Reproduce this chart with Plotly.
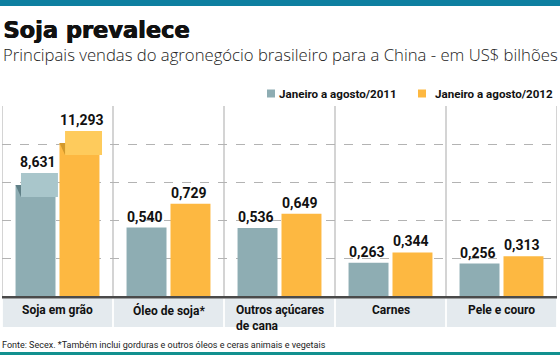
import plotly.graph_objects as go

# ---------------- data ----------------
categories = ["Soja em grão", "Óleo de soja*", "Outros açúcares<br>de cana", "Carnes", "Pele e couro"]
series_names = ["Janeiro a agosto/2011", "Janeiro a agosto/2012"]
values_2011 = [8.631, 0.540, 0.536, 0.263, 0.256]
values_2012 = [11.293, 0.729, 0.649, 0.344, 0.313]

title_text = "Soja prevalece"
subtitle_text = "Principais vendas do agronegócio brasileiro para a China - em US$ bilhões"
footer_text = "Fonte: Secex. *Também inclui gorduras e outros óleos e ceras animais e vegetais"

# ---------------- style ----------------
W, H = 560, 355
C11, C11_CAP, C11_FOLD = "#8eadb3", "#a9c6cb", "#5f7f86"
C12, C12_CAP, C12_FOLD = "#fdb841", "#fecb5c", "#d2992c"
TEAL = "#0e7fa0"
BAND = "#e4eaee"
FONT_B = "Roboto"


def px_x(p):
    return p / W


def px_y(p):
    return 1 - p / H


PLOT_L, PLOT_R, PLOT_T, PLOT_B = 2, 557, 106, 296
BAR_W = 0.36
OFF11, OFF12 = -0.378, 0.018
CAP_W = 0.333
CAP_OFF11, CAP_OFF12 = -0.329, 0.068
CAP_H = 0.76  # half height of the soja "break" caps, in soja-axis units

idx = list(range(len(categories)))
main_idx = idx[1:]

fig = go.Figure()

# main panel bars (categories 2..5)
fig.add_trace(go.Bar(x=main_idx, y=values_2011[1:], offset=OFF11, width=BAR_W,
                     marker=dict(color=C11, line=dict(width=0)), yaxis="y", hoverinfo="skip"))
fig.add_trace(go.Bar(x=main_idx, y=values_2012[1:], offset=OFF12, width=BAR_W,
                     marker=dict(color=C12, line=dict(width=0)), yaxis="y", hoverinfo="skip"))

# soja bars on a broken axis
fig.add_trace(go.Bar(x=[0], y=[values_2011[0]], offset=OFF11, width=BAR_W,
                     marker=dict(color=C11, line=dict(width=0)), yaxis="y2", hoverinfo="skip"))
fig.add_trace(go.Bar(x=[0], y=[values_2012[0]], offset=OFF12, width=BAR_W,
                     marker=dict(color=C12, line=dict(width=0)), yaxis="y2", hoverinfo="skip"))
fig.add_trace(go.Bar(x=[0], y=[2 * CAP_H], base=[values_2011[0] - CAP_H], offset=CAP_OFF11, width=CAP_W,
                     marker=dict(color=C11_CAP, line=dict(width=0)), yaxis="y2", hoverinfo="skip"))
fig.add_trace(go.Bar(x=[0], y=[2 * CAP_H], base=[values_2012[0] - CAP_H], offset=CAP_OFF12, width=CAP_W,
                     marker=dict(color=C12_CAP, line=dict(width=0)), yaxis="y2", hoverinfo="skip"))

shapes = []
# fold triangles
for v, off, coff, col in [(values_2011[0], OFF11, CAP_OFF11, C11_FOLD),
                          (values_2012[0], OFF12, CAP_OFF12, C12_FOLD)]:
    shapes.append(dict(type="path", xref="x", yref="y2",
                       path=f"M {off},{v} L {coff},{v} L {coff},{v - CAP_H} Z",
                       fillcolor=col, line=dict(width=0), layer="above"))

# top band, bottom band
shapes.append(dict(type="rect", xref="paper", yref="paper", x0=0, x1=1, y0=px_y(6), y1=1,
                   fillcolor=TEAL, line=dict(width=0)))
shapes.append(dict(type="rect", xref="paper", yref="paper", x0=0, x1=1, y0=0, y1=px_y(352),
                   fillcolor="#12908f", line=dict(width=0)))
# baseline
shapes.append(dict(type="rect", xref="paper", yref="paper", x0=px_x(PLOT_L), x1=px_x(PLOT_R),
                   y0=px_y(298.5), y1=px_y(296), fillcolor="#4a4a4a", line=dict(width=0)))
# label band per column
for i in idx:
    shapes.append(dict(type="rect", xref="x", yref="paper", x0=i - 0.5 + 0.008, x1=i + 0.5 - 0.008,
                       y0=px_y(327), y1=px_y(298.5), fillcolor=BAND, line=dict(width=0), layer="below"))
# vertical separators
for i in range(len(categories) + 1):
    shapes.append(dict(type="line", xref="x", yref="paper", x0=i - 0.5, x1=i - 0.5,
                       y0=px_y(PLOT_B), y1=px_y(PLOT_T), line=dict(color="#b8b8b8", width=1.2), layer="below"))
# legend squares
for x0, col in [(267, C11), (418, C12)]:
    shapes.append(dict(type="rect", xref="paper", yref="paper", x0=px_x(x0), x1=px_x(x0 + 8),
                       y0=px_y(97.5), y1=px_y(89.5), fillcolor=col, line=dict(width=0)))

annotations = []
# title / subtitle / footer
annotations.append(dict(text=f"<b>{title_text}</b>", xref="paper", yref="paper", x=px_x(1), y=px_y(29.5),
                        xanchor="left", yanchor="middle", showarrow=False,
                        font=dict(family="DejaVu Sans", size=22.5, color="#111111",
                                  shadow="0.5px 0 0 #111111, 0.9px 0 0 #111111")))
annotations.append(dict(text=subtitle_text, xref="paper", yref="paper", x=px_x(1), y=px_y(54),
                        xanchor="left", yanchor="middle", showarrow=False,
                        font=dict(family="Open Sans", size=16.7, color="#222222", weight=300)))
annotations.append(dict(text=footer_text, xref="paper", yref="paper", x=px_x(0), y=px_y(345),
                        xanchor="left", yanchor="middle", showarrow=False,
                        font=dict(family="Roboto", size=9, color="#222222")))
# legend texts
for x0, name in [(277, series_names[0]), (433, series_names[1])]:
    annotations.append(dict(text=f"<b>{name}</b>", xref="paper", yref="paper", x=px_x(x0), y=px_y(93.5),
                            xanchor="left", yanchor="middle", showarrow=False,
                            font=dict(family=FONT_B, size=11.6, color="#111111")))


def fmt(v):
    return f"{v:.3f}".replace(".", ",")


# value labels (main)
for i in main_idx:
    for v, off in [(values_2011[i], OFF11), (values_2012[i], OFF12)]:
        annotations.append(dict(text=f"<b>{fmt(v)}</b>", xref="x", yref="y", x=i + off + BAR_W / 2 - 0.01, y=v,
                                xanchor="center", yanchor="bottom", yshift=1, showarrow=False,
                                font=dict(family=FONT_B, size=14, color="#111111")))
# value labels (soja)
for v, coff in [(values_2011[0], CAP_OFF11), (values_2012[0], CAP_OFF12)]:
    annotations.append(dict(text=f"<b>{fmt(v)}</b>", xref="x", yref="y2", x=coff + CAP_W / 2 - 0.01, y=v + CAP_H,
                            xanchor="center", yanchor="bottom", yshift=1, showarrow=False,
                            font=dict(family=FONT_B, size=14, color="#111111")))
# category labels
for i, c in zip(idx, categories):
    annotations.append(dict(text=f"<b>{c}</b>", xref="x", yref="paper", x=i, y=px_y(301),
                            xanchor="center", yanchor="top", align="left", showarrow=False,
                            font=dict(family=FONT_B, size=12, color="#111111")))

fig.update_layout(
    width=W, height=H,
    margin=dict(l=0, r=0, t=0, b=0),
    paper_bgcolor="white", plot_bgcolor="white",
    barmode="overlay", showlegend=False,
    xaxis=dict(domain=[px_x(PLOT_L), px_x(PLOT_R)], range=[-0.5, len(categories) - 0.5],
               showgrid=False, showticklabels=False, zeroline=False, ticks="", fixedrange=True),
    yaxis=dict(domain=[px_y(PLOT_B), px_y(PLOT_T)], range=[0, 1.5001], dtick=0.3, tick0=0,
               showgrid=True, gridcolor="#b3b3b3", griddash="dash", gridwidth=1,
               showticklabels=False, zeroline=False, ticks="", fixedrange=True),
    yaxis2=dict(overlaying="y", range=[1.6, 13.64], showgrid=False, showticklabels=False,
                zeroline=False, ticks="", fixedrange=True),
    shapes=shapes, annotations=annotations,
)

fig.write_html("out.html", config={"displayModeBar": False},
               post_script="document.body.style.margin='0';document.body.style.overflow='hidden';")
